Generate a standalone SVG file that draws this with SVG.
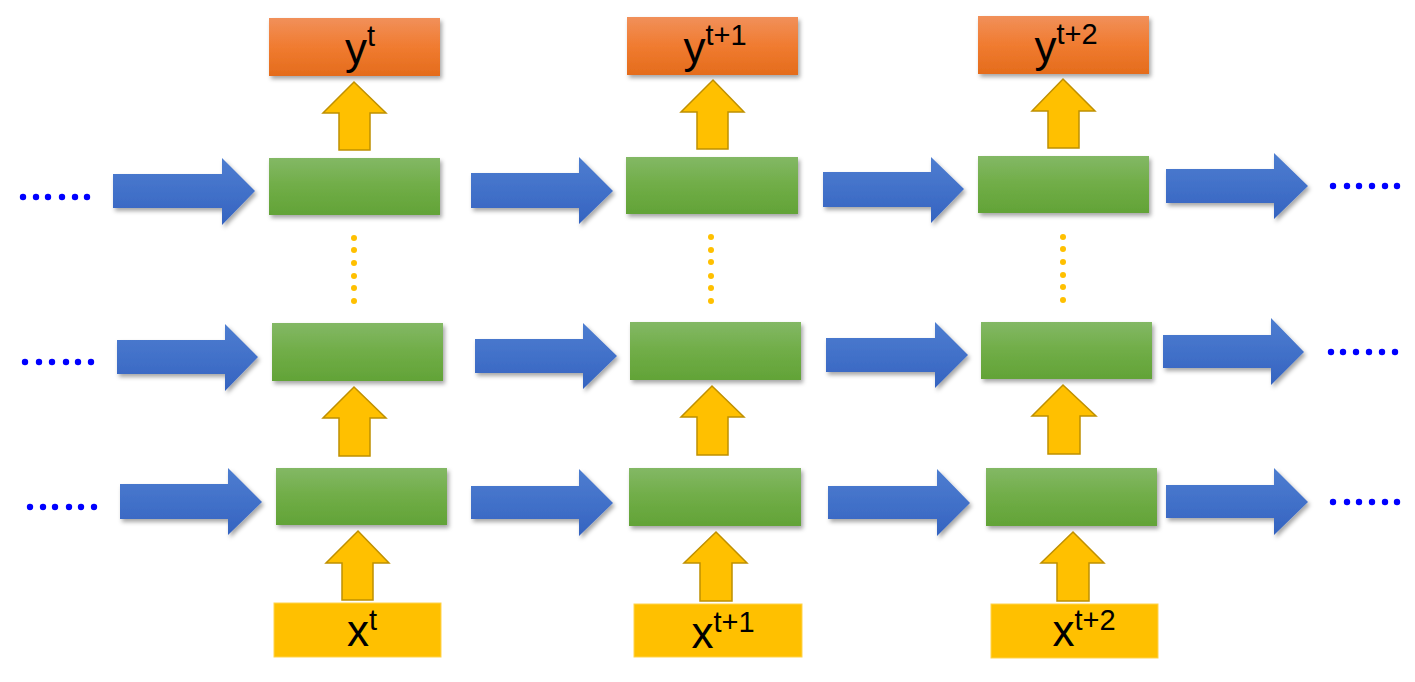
<svg xmlns="http://www.w3.org/2000/svg" width="1415" height="682" viewBox="0 0 1415 682">
  <defs>
    <linearGradient id="gGreen" x1="0" y1="0" x2="0" y2="1">
      <stop offset="0" stop-color="#83b865"/>
      <stop offset="0.5" stop-color="#70ad47"/>
      <stop offset="1" stop-color="#62a337"/>
    </linearGradient>
    <linearGradient id="gOrange" x1="0" y1="0" x2="0" y2="1">
      <stop offset="0" stop-color="#f1905a"/>
      <stop offset="0.5" stop-color="#f07b30"/>
      <stop offset="1" stop-color="#e46c1c"/>
    </linearGradient>
    <linearGradient id="gBlue" x1="0" y1="0" x2="0" y2="1">
      <stop offset="0" stop-color="#4d7dd0"/>
      <stop offset="0.5" stop-color="#4271c9"/>
      <stop offset="1" stop-color="#3463c0"/>
    </linearGradient>
    <filter id="shadow" x="-10%" y="-20%" width="125%" height="150%">
      <feDropShadow dx="2" dy="3" stdDeviation="2" flood-color="#000" flood-opacity="0.35"/>
    </filter>
    <style>
      .green { fill: url(#gGreen); filter: url(#shadow); }
      .orange { fill: url(#gOrange); filter: url(#shadow); }
      .xin { fill: #ffc000; stroke: #ffd34d; stroke-width: 1; }
      .blue { fill: url(#gBlue); filter: url(#shadow); }
      .up { fill: #ffc000; stroke: #bf9000; stroke-width: 1.5; stroke-linejoin: miter; }
      .bdot { fill: #0000ff; }
      .ydot { fill: #ffc000; }
      .lbl { font-family: "Liberation Sans", Arial, sans-serif; font-size: 44px; fill: #000; text-anchor: middle; }
      .sup { font-size: 29px; }
    </style>
  </defs>

  <!-- Output nodes -->
  <g id="y_t">
    <rect class="orange" x="269" y="18" width="171" height="58"/>
    <text class="lbl" x="360" y="64">y<tspan class="sup" dy="-18">t</tspan></text>
  </g>
  <g id="y_t1">
    <rect class="orange" x="627" y="17" width="171" height="58"/>
    <text class="lbl" x="715" y="63">y<tspan class="sup" dy="-18">t+1</tspan></text>
  </g>
  <g id="y_t2">
    <rect class="orange" x="978" y="16" width="171" height="58"/>
    <text class="lbl" x="1066" y="62">y<tspan class="sup" dy="-18">t+2</tspan></text>
  </g>

  <!-- Hidden-layer nodes -->
  <g id="h_top_t"><rect class="green" x="269" y="158" width="171" height="57"/></g>
  <g id="h_top_t1"><rect class="green" x="626" y="157" width="172" height="57"/></g>
  <g id="h_top_t2"><rect class="green" x="978" y="156" width="171" height="57"/></g>

  <g id="h_mid_t"><rect class="green" x="272" y="323" width="171" height="58"/></g>
  <g id="h_mid_t1"><rect class="green" x="630" y="322" width="171" height="58"/></g>
  <g id="h_mid_t2"><rect class="green" x="981" y="322" width="171" height="57"/></g>

  <g id="h_bot_t"><rect class="green" x="276" y="468" width="171" height="57"/></g>
  <g id="h_bot_t1"><rect class="green" x="629" y="468" width="172" height="58"/></g>
  <g id="h_bot_t2"><rect class="green" x="986" y="468" width="171" height="58"/></g>

  <!-- Input nodes -->
  <g id="x_t">
    <rect class="xin" x="274" y="603" width="167" height="54"/>
    <text class="lbl" x="362" y="646">x<tspan class="sup" dy="-16">t</tspan></text>
  </g>
  <g id="x_t1">
    <rect class="xin" x="634" y="604" width="168" height="53"/>
    <text class="lbl" x="723" y="648">x<tspan class="sup" dy="-16">t+1</tspan></text>
  </g>
  <g id="x_t2">
    <rect class="xin" x="991" y="604" width="167" height="54"/>
    <text class="lbl" x="1084" y="646">x<tspan class="sup" dy="-16">t+2</tspan></text>
  </g>

  <!-- Connectors -->
  <g id="connectors">
    <!-- row 1 blue -->
    <path class="blue" d="M113,174 H222 V158 L255,191 L222,225 V208 H113 Z"/>
    <path class="blue" d="M471,173 H579 V157 L613,191 L579,224 V208 H471 Z"/>
    <path class="blue" d="M823,172 H931 V157 L964,189 L931,223 V207 H823 Z"/>
    <path class="blue" d="M1166,169 H1274 V153 L1308,186 L1274,219 V203 H1166 Z"/>
    <!-- row 2 blue -->
    <path class="blue" d="M117,340 H225 V324 L258,357 L225,391 V374 H117 Z"/>
    <path class="blue" d="M475,339 H583 V323 L617,356 L583,389 V373 H475 Z"/>
    <path class="blue" d="M826,338 H935 V322 L968,355 L935,388 V372 H826 Z"/>
    <path class="blue" d="M1163,335 H1271 V318 L1304,352 L1271,385 V368 H1163 Z"/>
    <!-- row 3 blue -->
    <path class="blue" d="M120,484 H228 V468 L262,502 L228,535 V519 H120 Z"/>
    <path class="blue" d="M471,486 H579 V469 L613,503 L579,536 V519 H471 Z"/>
    <path class="blue" d="M828,486 H937 V469 L970,503 L937,536 V519 H828 Z"/>
    <path class="blue" d="M1166,485 H1274 V468 L1308,502 L1274,535 V518 H1166 Z"/>

    <!-- yellow up arrows -->
    <path class="up" d="M354,82 L386,113 H370 V150 H339 V113 H323 Z"/>
    <path class="up" d="M354,387 L386,418 H370 V456 H339 V418 H323 Z"/>
    <path class="up" d="M358,531 L389,563 H373 V600 H342 V563 H326 Z"/>
    <path class="up" d="M713,80 L744,112 H728 V149 H697 V112 H681 Z"/>
    <path class="up" d="M712,386 L744,417 H728 V455 H697 V417 H681 Z"/>
    <path class="up" d="M716,532 L747,563 H732 V601 H700 V563 H684 Z"/>
    <path class="up" d="M1063,79 L1095,111 H1079 V148 H1048 V111 H1032 Z"/>
    <path class="up" d="M1063,385 L1096,416 H1080 V454 H1048 V416 H1032 Z"/>
    <path class="up" d="M1073,532 L1104,563 H1089 V601 H1057 V563 H1041 Z"/>
  </g>

  <!-- vertical ellipsis between layers -->
  <g id="vdots">
    <circle class="ydot" cx="354" cy="238" r="3"/><circle class="ydot" cx="354" cy="250" r="3"/><circle class="ydot" cx="354" cy="263" r="3"/><circle class="ydot" cx="354" cy="276" r="3"/><circle class="ydot" cx="354" cy="288" r="3"/><circle class="ydot" cx="354" cy="301" r="3"/>
    <circle class="ydot" cx="711" cy="237" r="3"/><circle class="ydot" cx="711" cy="250" r="3"/><circle class="ydot" cx="711" cy="262" r="3"/><circle class="ydot" cx="711" cy="276" r="3"/><circle class="ydot" cx="711" cy="288" r="3"/><circle class="ydot" cx="711" cy="301" r="3"/>
    <circle class="ydot" cx="1063" cy="237" r="3"/><circle class="ydot" cx="1063" cy="249" r="3"/><circle class="ydot" cx="1063" cy="262" r="3"/><circle class="ydot" cx="1063" cy="275" r="3"/><circle class="ydot" cx="1063" cy="287" r="3"/><circle class="ydot" cx="1063" cy="300" r="3"/>
  </g>

  <!-- horizontal ellipses -->
  <g id="hdots">
    <circle class="bdot" cx="23" cy="197" r="3.2"/><circle class="bdot" cx="36" cy="197" r="3.2"/><circle class="bdot" cx="48" cy="197" r="3.2"/><circle class="bdot" cx="62" cy="197" r="3.2"/><circle class="bdot" cx="75" cy="197" r="3.2"/><circle class="bdot" cx="87" cy="197" r="3.2"/>
    <circle class="bdot" cx="25" cy="362" r="3.2"/><circle class="bdot" cx="39" cy="362" r="3.2"/><circle class="bdot" cx="52" cy="362" r="3.2"/><circle class="bdot" cx="66" cy="362" r="3.2"/><circle class="bdot" cx="78" cy="362" r="3.2"/><circle class="bdot" cx="91" cy="362" r="3.2"/>
    <circle class="bdot" cx="30" cy="507" r="3.2"/><circle class="bdot" cx="43" cy="507" r="3.2"/><circle class="bdot" cx="55" cy="507" r="3.2"/><circle class="bdot" cx="69" cy="507" r="3.2"/><circle class="bdot" cx="81" cy="507" r="3.2"/><circle class="bdot" cx="94" cy="507" r="3.2"/>
    <circle class="bdot" cx="1333" cy="186" r="3.2"/><circle class="bdot" cx="1347" cy="186" r="3.2"/><circle class="bdot" cx="1359" cy="186" r="3.2"/><circle class="bdot" cx="1372" cy="186" r="3.2"/><circle class="bdot" cx="1385" cy="186" r="3.2"/><circle class="bdot" cx="1397" cy="186" r="3.2"/>
    <circle class="bdot" cx="1331" cy="352" r="3.2"/><circle class="bdot" cx="1343" cy="352" r="3.2"/><circle class="bdot" cx="1356" cy="352" r="3.2"/><circle class="bdot" cx="1369" cy="352" r="3.2"/><circle class="bdot" cx="1382" cy="352" r="3.2"/><circle class="bdot" cx="1395" cy="352" r="3.2"/>
    <circle class="bdot" cx="1333" cy="502" r="3.2"/><circle class="bdot" cx="1347" cy="502" r="3.2"/><circle class="bdot" cx="1359" cy="502" r="3.2"/><circle class="bdot" cx="1372" cy="502" r="3.2"/><circle class="bdot" cx="1385" cy="502" r="3.2"/><circle class="bdot" cx="1397" cy="502" r="3.2"/>
  </g>
</svg>
